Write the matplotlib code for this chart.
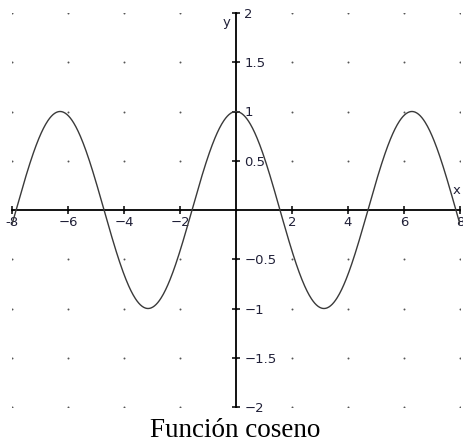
import numpy as np
import matplotlib
matplotlib.use('Agg')
import matplotlib.pyplot as plt

# rango de la gráfica y marcas de los ejes
x_min, x_max = -8, 8
y_min, y_max = -2, 2
x_ticks = [-8, -6, -4, -2, 2, 4, 6, 8]
y_ticks = [-2, -1.5, -1, -0.5, 0.5, 1, 1.5, 2]
x_tick_labels = ['-8', '\u22126', '\u22124', '\u22122', '2', '4', '6', '8']
y_tick_labels = ['\u22122', '\u22121.5', '\u22121', '\u22120.5', '0.5', '1', '1.5', '2']
grid_x = [-8, -6, -4, -2, 0, 2, 4, 6, 8]
grid_y = [-2, -1.5, -1, -0.5, 0, 0.5, 1, 1.5, 2]
titulo = 'Función coseno'

x = np.linspace(x_min, x_max, 800)
y = np.cos(x)

W, H = 463, 443
fig = plt.figure(figsize=(W / 100, H / 100), dpi=100)
ax = fig.add_axes([12 / W, 1 - 407 / H, 448 / W, 394 / H])

# puntos de la cuadrícula
gx, gy = np.meshgrid(grid_x, grid_y)
ax.scatter(gx.ravel(), gy.ravel(), s=2.0, color='#555555', linewidths=0, zorder=1)

ax.plot(x, y, color='#3a3a3a', lw=1.0, zorder=3)

ax.set_xlim(x_min, x_max)
ax.set_ylim(y_min, y_max)

# ejes cruzando en el origen
for side in ['top', 'right']:
    ax.spines[side].set_visible(False)
ax.spines['left'].set_position(('data', 0))
ax.spines['bottom'].set_position(('data', 0))
for side in ['left', 'bottom']:
    ax.spines[side].set_linewidth(1.3)
    ax.spines[side].set_color('black')
    ax.spines[side].set_zorder(2)

ax.set_xticks(x_ticks)
ax.set_xticklabels(x_tick_labels)
ax.set_yticks(y_ticks)
ax.set_yticklabels(y_tick_labels)
ax.tick_params(axis='both', direction='inout', length=6, width=1.1,
               labelsize=9.5, labelcolor='#202038')
ax.tick_params(axis='x', pad=1)
ax.tick_params(axis='y', pad=-9)
for lbl in ax.get_yticklabels():
    lbl.set_horizontalalignment('left')

ax.text(7.72, 0.2, 'x', fontsize=9.5, color='#202038', ha='left', va='center')
ax.text(-0.18, 1.9, 'y', fontsize=9.5, color='#202038', ha='right', va='center')

fig.text(235 / W, 1 - 437 / H, titulo, family='Liberation Serif',
         fontsize=19.5, ha='center', va='baseline')

fig.savefig('out.png', dpi=100)
